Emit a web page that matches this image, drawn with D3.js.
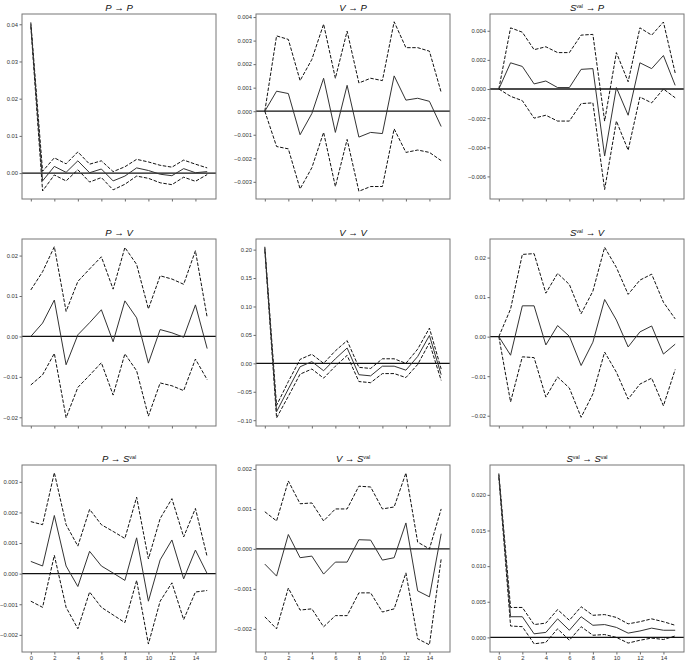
<!DOCTYPE html>
<html>
<head>
<meta charset="utf-8">
<script src="https://cdn.jsdelivr.net/npm/d3@7"></script>
<style>
  html, body { margin: 0; padding: 0; background: #fff; }
  svg { display: block; }
</style>
</head>
<body>
<svg id="chart" width="685" height="663"></svg>
<script>
// ---------------- data ----------------
const steps = [0,1,2,3,4,5,6,7,8,9,10,11,12,13,14,15];
const xTicks = [0,2,4,6,8,10,12,14];

// P -> P
const pp_mid = [0.0400,-0.0021,0.0018,0.0002,0.0033,0.0001,0.0011,-0.0021,-0.0008,0.0014,0.0007,-0.0003,-0.0007,0.0012,0.0001,0.0004];
const pp_up  = [0.0405,0.0005,0.0041,0.0025,0.0057,0.0024,0.0033,0.0004,0.0017,0.0037,0.0030,0.0021,0.0016,0.0035,0.0024,0.0014];
const pp_lo  = [0.0395,-0.0048,-0.0005,-0.0021,0.0009,-0.0024,-0.0012,-0.0045,-0.0030,-0.0008,-0.0014,-0.0026,-0.0031,-0.0011,-0.0022,-0.0004];
// V -> P
const vp_mid = [0,0.00085,0.00075,-0.0010,-0.0001,0.0014,-0.0009,0.0011,-0.0011,-0.0009,-0.00095,0.0015,0.00047,0.00055,0.00042,-0.00065];
const vp_up  = [0,0.0032,0.00305,0.0013,0.0022,0.0037,0.0014,0.0034,0.0012,0.0014,0.0013,0.0038,0.0027,0.0027,0.00255,0.0008];
const vp_lo  = [0,-0.0015,-0.0016,-0.0033,-0.0024,-0.0009,-0.0032,-0.0012,-0.0034,-0.0032,-0.0032,-0.00075,-0.00175,-0.00165,-0.00175,-0.0021];
// Sval -> P
const sp_mid = [0,0.0018,0.00155,0.00035,0.00055,0.0001,0.0001,0.00135,0.0014,-0.0046,0.0001,-0.0018,0.0018,0.0014,0.0023,0.00025];
const sp_up  = [0,0.0042,0.0039,0.0027,0.0029,0.0025,0.0025,0.0037,0.00375,-0.0022,0.0025,0.0005,0.0042,0.0037,0.0046,0.0011];
const sp_lo  = [0,-0.0005,-0.0008,-0.0020,-0.0018,-0.0022,-0.0022,-0.0010,-0.00095,-0.0069,-0.0022,-0.0042,-0.00055,-0.00095,0.0000,-0.0006];
// P -> V
const pv_mid = [0,0.0033,0.0090,-0.0070,0.0004,0.0034,0.0066,-0.0013,0.0088,0.0046,-0.0066,0.0017,0.0009,-0.0002,0.0078,-0.0030];
const pv_up  = [0.0115,0.0160,0.0222,0.0062,0.0136,0.0167,0.0197,0.0117,0.0220,0.0178,0.0068,0.0150,0.0142,0.0129,0.0212,0.0047];
const pv_lo  = [-0.0120,-0.0095,-0.0042,-0.0201,-0.0126,-0.0096,-0.0065,-0.0145,-0.0043,-0.0085,-0.0197,-0.0115,-0.0122,-0.0134,-0.0056,-0.0107];
// V -> V
const vv_mid = [0.202,-0.085,-0.045,-0.006,0.003,-0.013,0.008,0.027,-0.020,-0.022,-0.005,-0.005,-0.012,0.012,0.049,-0.020];
const vv_up  = [0.205,-0.074,-0.032,0.007,0.016,0.000,0.022,0.040,-0.007,-0.009,0.008,0.008,0.000,0.025,0.062,-0.010];
const vv_lo  = [0.199,-0.096,-0.058,-0.019,-0.010,-0.026,-0.005,0.014,-0.032,-0.034,-0.018,-0.018,-0.025,-0.002,0.036,-0.030];
// Sval -> V
const sv_mid = [0,-0.0047,0.0078,0.0078,-0.0021,0.0028,0.0001,-0.0073,-0.0014,0.0094,0.0042,-0.0026,0.0012,0.0027,-0.0044,-0.0019];
const sv_up  = [0,0.0070,0.0208,0.0210,0.0110,0.0160,0.0132,0.0058,0.0115,0.0226,0.0175,0.0107,0.0143,0.0158,0.0087,0.0045];
const sv_lo  = [0,-0.0165,-0.0051,-0.0053,-0.0153,-0.0102,-0.0130,-0.0204,-0.0145,-0.0039,-0.0090,-0.0158,-0.0120,-0.0105,-0.0175,-0.0083];
// P -> Sval
const ps_mid = [0.0004,0.00025,0.0019,0.00025,-0.00042,0.00073,0.00025,0.00002,-0.00022,0.00117,-0.0009,0.00045,0.0011,-0.00017,0.00077,0.0000];
const ps_up  = [0.0017,0.0016,0.0033,0.0016,0.0009,0.0021,0.0016,0.00138,0.00115,0.0025,0.00048,0.0018,0.00245,0.0012,0.00213,0.00055];
const ps_lo  = [-0.0009,-0.0011,0.0006,-0.0011,-0.0018,-0.0006,-0.0011,-0.00135,-0.0016,-0.00022,-0.0023,-0.0009,-0.0003,-0.0015,-0.0006,-0.00055];
// V -> Sval
const vs_mid = [-0.00038,-0.00068,0.00036,-0.00022,-0.00018,-0.00063,-0.00033,-0.00033,0.00023,0.00022,-0.00028,-0.00022,0.00065,-0.00105,-0.0012,0.00038];
const vs_up  = [0.00093,0.0007,0.0017,0.00113,0.00115,0.0007,0.0010,0.0010,0.00157,0.00155,0.0010,0.00105,0.0019,0.00017,0.0000,0.0010];
const vs_lo  = [-0.0017,-0.0020,-0.00098,-0.00153,-0.0015,-0.00195,-0.00167,-0.00167,-0.0011,-0.0011,-0.00158,-0.0015,-0.0006,-0.00225,-0.0024,-0.00025];
// Sval -> Sval
const ss_mid = [0.0228,0.0029,0.0029,0.0005,0.0007,0.0026,0.0010,0.0029,0.0017,0.0018,0.0014,0.0006,0.0009,0.0013,0.0010,0.0010];
const ss_up  = [0.0230,0.0042,0.0042,0.0018,0.0020,0.0039,0.0024,0.0043,0.0031,0.0032,0.0028,0.0019,0.0022,0.0026,0.0022,0.0017];
const ss_lo  = [0.0225,0.0016,0.0015,-0.0009,-0.0007,0.0012,-0.0004,0.0015,0.0003,0.0004,0.0000,-0.0008,-0.0004,-0.0001,-0.0003,0.0002];

// titles: [source, target]
const sources = ["P","V","S","P","V","S","P","V","S"];
const targets = ["P","P","P","V","V","V","S","S","S"];

// y tick values per panel
const yTicks = [
  [0,0.01,0.02,0.03,0.04],
  [-0.003,-0.002,-0.001,0,0.001,0.002,0.003,0.004],
  [-0.006,-0.004,-0.002,0,0.002,0.004],
  [-0.02,-0.01,0,0.01,0.02],
  [-0.10,-0.05,0,0.05,0.10,0.15,0.20],
  [-0.02,-0.01,0,0.01,0.02],
  [-0.002,-0.001,0,0.001,0.002,0.003],
  [-0.002,-0.001,0,0.001,0.002],
  [0,0.005,0.010,0.015,0.020]
];
const yDecimals = [2,3,3,2,2,2,3,3,3];
const yDomains = [
  [-0.00696,0.04276],[-0.00373,0.00413],[-0.00755,0.00515],
  [-0.02215,0.0241],[-0.1102,0.2187],[-0.0226,0.0247],
  [-0.00256,0.00355],[-0.00258,0.0021],[-0.00205,0.02419]
];
const mids = [pp_mid,vp_mid,sp_mid,pv_mid,vv_mid,sv_mid,ps_mid,vs_mid,ss_mid];
const ups  = [pp_up,vp_up,sp_up,pv_up,vv_up,sv_up,ps_up,vs_up,ss_up];
const los  = [pp_lo,vp_lo,sp_lo,pv_lo,vv_lo,sv_lo,ps_lo,vs_lo,ss_lo];

// ---------------- layout ----------------
const colLeft = [22, 256, 490];
const rowTop = [14, 239, 465];
const rowH = [185, 187, 187];
const W = 194;
const svg = d3.select("#chart");
const FONT = "'Liberation Sans', Arial, sans-serif";
const defs = svg.append("defs");

for (let i = 0; i < 9; i++) {
  const r = Math.floor(i / 3), c = i % 3;
  const h = rowH[r];
  const g = svg.append("g").attr("transform", `translate(${colLeft[c]},${rowTop[r]})`);
  const x = d3.scaleLinear().domain([-0.75, 15.75]).range([0, W]);
  const y = d3.scaleLinear().domain(yDomains[i]).range([h, 0]);

  defs.append("clipPath").attr("id", "clip" + i)
    .append("rect").attr("x", 0).attr("y", 0).attr("width", W).attr("height", h);

  // x axis
  const xa = d3.axisBottom(x).tickValues(xTicks).tickSize(2.5).tickPadding(1.5)
    .tickFormat(r === 2 ? d3.format("d") : () => "");
  const gx = g.append("g").attr("transform", `translate(0,${h})`).call(xa);
  // y axis
  const fmt = d3.format("." + yDecimals[i] + "f");
  const ya = d3.axisLeft(y).tickValues(yTicks[i]).tickSize(2.5).tickPadding(1.5)
    .tickFormat(d => fmt(d).replace("-", "\u2212"));
  const gy = g.append("g").call(ya);
  [gx, gy].forEach(a => {
    a.select(".domain").remove();
    a.selectAll(".tick line").attr("stroke", "#444").attr("stroke-width", 0.8);
    a.selectAll(".tick text").attr("fill", "#333").style("font-family", FONT).style("font-size", "5.8px");
  });

  const plot = g.append("g").attr("clip-path", `url(#clip${i})`);

  // zero line
  plot.append("line").attr("x1", 0).attr("x2", W).attr("y1", y(0)).attr("y2", y(0))
    .attr("stroke", "#111").attr("stroke-width", 1.3);

  const line = d3.line().x((d, k) => x(steps[k])).y(d => y(d));
  plot.append("path").datum(ups[i]).attr("d", line).attr("fill", "none")
    .attr("stroke", "#111").attr("stroke-width", 1).attr("stroke-dasharray", "3.5,1.6");
  plot.append("path").datum(los[i]).attr("d", line).attr("fill", "none")
    .attr("stroke", "#111").attr("stroke-width", 1).attr("stroke-dasharray", "3.5,1.6");
  plot.append("path").datum(mids[i]).attr("d", line).attr("fill", "none")
    .attr("stroke", "#333").attr("stroke-width", 1);

  // frame
  g.append("rect").attr("x", 0).attr("y", 0).attr("width", W).attr("height", h)
    .attr("fill", "none").attr("stroke", "#777").attr("stroke-width", 1);

  // title
  const t = g.append("text").attr("x", W / 2).attr("y", -3.4).attr("text-anchor", "middle")
    .style("font-family", FONT).style("font-size", "9.5px").attr("fill", "#111");
  let pendingDy = 0;
  const addName = (name) => {
    const s = t.append("tspan").style("font-style", "italic").text(name);
    if (pendingDy) { s.attr("dy", pendingDy); pendingDy = 0; }
    if (name === "S") {
      t.append("tspan").attr("dy", -2.2).style("font-size", "5.3px").text("val");
      pendingDy = 2.2;
    }
  };
  addName(sources[i]);
  const arrow = t.append("tspan").text(" \u2192 ");
  if (pendingDy) { arrow.attr("dy", pendingDy); pendingDy = 0; }
  addName(targets[i]);
}
</script>
</body>
</html>
